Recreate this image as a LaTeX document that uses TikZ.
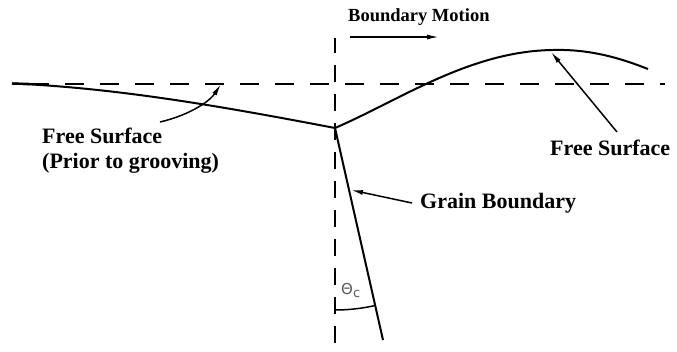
\documentclass[tikz,border=0pt]{standalone}
\usepackage{fontspec}
\setmainfont{Liberation Serif}
\newfontfamily\symfont{DejaVu Sans}
\usetikzlibrary{arrows.meta}
\tikzset{
  surf/.style={line width=2pt, line join=round},
  guide/.style={line width=1.6pt, dash pattern=on 19pt off 16pt},
  vguide/.style={line width=1.6pt, dash pattern=on 17pt off 12pt},
  lbl/.style={font=\bfseries\fontsize{22}{25}\selectfont, inner sep=0pt, anchor=west, align=left},
  ptr/.style={line width=1.5pt, -{Latex[length=12pt,width=5pt]}},
}
\begin{document}
\begin{tikzpicture}[x=1pt,y=-1pt]
\useasboundingbox (0,0) rectangle (677,351);
% guides
\draw[guide] (30,84) -- (665,84);
\draw[line width=2.4pt] (12,83.5) -- (30,84);
\draw[vguide, dash phase=2pt] (335,38) -- (335,348);
% junction and surfaces
\coordinate (J) at (335,128);
\coordinate (GB) at (383,340);
\draw[surf] (12,83.5) .. controls (120,88) and (230,108) .. (J);
\draw[surf] (J) .. controls (400,100) and (470,51) .. (553,50)
                .. controls (590,49) and (620,58) .. (648,69);
\draw[surf] (J) -- (GB);
% angle arc
\draw[line width=1.5pt] (J) ++(90:182) arc[start angle=90, end angle=77.2, radius=182];
\node[text=black!65, inner sep=0pt, anchor=west] (th) at (341,291) {\symfont\fontsize{15}{15}\selectfont Θ\raisebox{-3pt}{\fontsize{13}{13}\selectfont c}};
% labels
\node[lbl, font=\bfseries\fontsize{18.5}{20}\selectfont] (bm) at (348,17) {Boundary Motion};
\node[lbl] (fs1) at (42,150.5) {Free Surface\\(Prior to grooving)};
\node[lbl] (fs2) at (550,148) {Free Surface};
\node[lbl] (gbl) at (420,203) {Grain Boundary};
% arrows
\coordinate (bm1) at (350,37);
\coordinate (bm2) at (439,37);
\draw[ptr] (bm1) -- (bm2);
\coordinate (a1s) at (160,122);
\coordinate (a1e) at (221,84);
\draw[ptr] (a1s) .. controls (190,115) and (210,101) .. (a1e);
\coordinate (a2s) at (617,132);
\coordinate (a2e) at (551,52);
\draw[ptr] (a2s) -- (a2e);
\coordinate (a3s) at (412,203);
\coordinate (a3e) at (351,190);
\draw[ptr] (a3s) -- (a3e);
\end{tikzpicture}
\end{document}
